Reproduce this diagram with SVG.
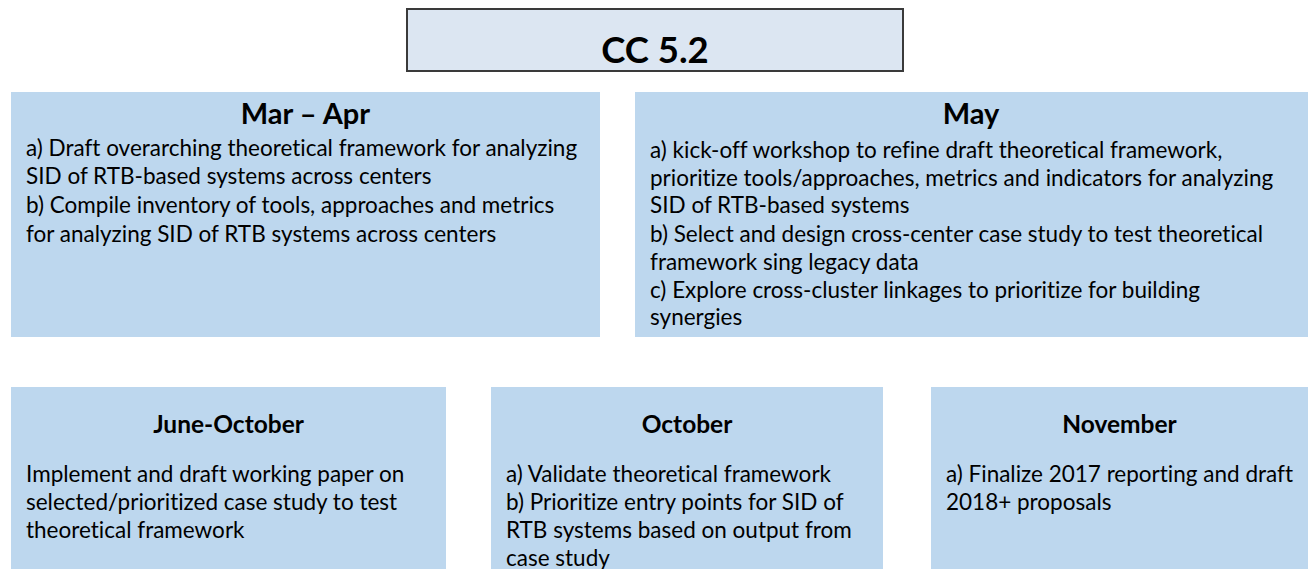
<svg xmlns="http://www.w3.org/2000/svg" width="1308" height="569" viewBox="0 0 1308 569">
  <style>
    .box { fill: #bdd7ee; }
    .head { fill: #dce6f2; stroke: #3a3a3a; stroke-width: 2; }
    text { font-family: Lato, "Liberation Sans", sans-serif; fill: #000; font-variant-ligatures: none; }
    .t1 { font-size: 36.5px; font-weight: bold; text-anchor: middle; }
    .t2 { font-size: 29px; font-weight: bold; text-anchor: middle; }
    .t3 { font-size: 24.5px; font-weight: bold; text-anchor: middle; }
    .b { font-size: 22.5px; }
  </style>
  <rect width="1308" height="569" fill="#ffffff"/>

  <g id="cc52">
    <rect class="head" x="407" y="9" width="496" height="62"/>
    <text class="t1" x="655" y="63">CC 5.2</text>
  </g>

  <g id="mar-apr">
    <rect class="box" x="11" y="92" width="589" height="245"/>
    <text class="t2" x="305.5" y="124">Mar – Apr</text>
    <text class="b" x="26" y="156">a) Draft overarching theoretical framework for analyzing</text>
    <text class="b" x="26" y="184">SID of RTB-based systems across centers</text>
    <text class="b" x="26" y="213">b) Compile inventory of tools, approaches and metrics</text>
    <text class="b" x="26" y="242">for analyzing SID of RTB systems across centers</text>
  </g>

  <g id="may">
    <rect class="box" x="635" y="92" width="673" height="245"/>
    <text class="t2" x="971" y="124">May</text>
    <text class="b" x="650" y="158">a) kick-off workshop to refine draft theoretical framework,</text>
    <text class="b" x="650" y="186">prioritize tools/approaches, metrics and indicators for analyzing</text>
    <text class="b" x="650" y="213">SID of RTB-based systems</text>
    <text class="b" x="650" y="242">b) Select and design cross-center case study to test theoretical</text>
    <text class="b" x="650" y="270">framework sing legacy data</text>
    <text class="b" x="650" y="298">c) Explore cross-cluster linkages to prioritize for building</text>
    <text class="b" x="650" y="325">synergies</text>
  </g>

  <g id="june-october">
    <rect class="box" x="11" y="387" width="435" height="182"/>
    <text class="t3" x="228.5" y="433">June-October</text>
    <text class="b" x="26" y="482">Implement and draft working paper on</text>
    <text class="b" x="26" y="510">selected/prioritized case study to test</text>
    <text class="b" x="26" y="538">theoretical framework</text>
  </g>

  <g id="october">
    <rect class="box" x="491" y="387" width="392" height="182"/>
    <text class="t3" x="687" y="433">October</text>
    <text class="b" x="506" y="482">a) Validate theoretical framework</text>
    <text class="b" x="506" y="510">b) Prioritize entry points for SID of</text>
    <text class="b" x="506" y="538">RTB systems based on output from</text>
    <text class="b" x="506" y="566">case study</text>
  </g>

  <g id="november">
    <rect class="box" x="931" y="387" width="377" height="182"/>
    <text class="t3" x="1119.5" y="433">November</text>
    <text class="b" x="946" y="482">a) Finalize 2017 reporting and draft</text>
    <text class="b" x="946" y="510">2018+ proposals</text>
  </g>

  <g id="connectors"></g>
</svg>
